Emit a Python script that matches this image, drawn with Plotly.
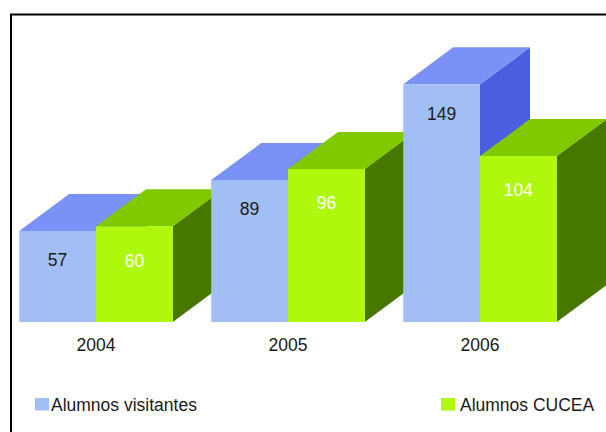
import plotly.graph_objects as go

years = ["2004", "2005", "2006"]
visitantes = [57, 89, 149]
cucea = [60, 96, 104]
name_visitantes = "Alumnos visitantes"
name_cucea = "Alumnos CUCEA"

W, H = 606, 432
PITCH = 192.0        # px per category
SCALE = 1.595        # px per student
X0 = 96.0            # px of first category
BASE = 322.0         # px of baseline
BAR = 0.4            # bar width in category units
DX = 50.0 / PITCH    # 3D depth, horizontal
DY = 37.0 / SCALE    # 3D depth, vertical
FONT = dict(family="Liberation Sans, Arial, sans-serif", size=17.5, color="#1a1a1a")
BLUE = "#A2BFF5"
GREEN = "#AFF80D"

fig = go.Figure()
z = 1


def add_poly(xs, ys, color, z):
    fig.add_trace(go.Scatter(x=xs, y=ys, mode="lines", fill="toself", fillcolor=color,
                             line=dict(width=0, color=color), hoverinfo="skip",
                             showlegend=False, zorder=z, cliponaxis=True))


def add_box(i, v, left, front, top, side, name):
    global z
    right = left + BAR
    add_poly([right, right + DX, right + DX, right], [0, DY, v + DY, v], side, z); z += 1
    add_poly([left, left + DX, right + DX, right], [v, v + DY, v + DY, v], top, z); z += 1
    fig.add_trace(go.Bar(x=[i], y=[v], width=[BAR], offset=[left - i], marker=dict(color=front, line=dict(width=0)),
                         name=name, showlegend=False, zorder=z, hoverinfo="skip"))
    z += 1


for i in range(len(years)):
    add_box(i, visitantes[i], i - BAR, BLUE, "#7A92F5", "#4A5FE0", name_visitantes)
    add_box(i, cucea[i], i, GREEN, "#80C800", "#467800", name_cucea)

# value labels
fig.add_trace(go.Scatter(x=[i - BAR / 2 for i in range(3)], y=[v - 31 / SCALE for v in visitantes],
                         mode="text", text=[str(v) for v in visitantes], textfont=FONT,
                         showlegend=False, hoverinfo="skip", zorder=z))
fig.add_trace(go.Scatter(x=[i + BAR / 2 for i in range(3)], y=[v - 36 / SCALE for v in cucea],
                         mode="text", text=[str(v) for v in cucea],
                         textfont=dict(family=FONT["family"], size=17.5, color="white"),
                         showlegend=False, hoverinfo="skip", zorder=z + 1))


def swatch(x0, color):
    return dict(type="rect", xref="paper", yref="paper", x0=x0 / W, x1=(x0 + 14) / W,
                y0=(H - 410.5) / H, y1=(H - 398) / H, fillcolor=color, line=dict(width=0), layer="above")


def legend_text(x0, text):
    return dict(text=text, xref="paper", yref="paper", x=x0 / W, y=(H - 404.5) / H,
                xanchor="left", yanchor="middle", showarrow=False, font=FONT)


fig.update_layout(
    width=W, height=H, margin=dict(l=0, r=0, t=0, b=0),
    paper_bgcolor="white", plot_bgcolor="rgba(0,0,0,0)",
    barmode="overlay", font=FONT, showlegend=False,
    xaxis=dict(range=[-X0 / PITCH, (W - X0) / PITCH], domain=[0, 1],
               tickmode="array", tickvals=[0, 1, 2], ticktext=years,
               ticks="outside", ticklen=7, tickcolor="rgba(0,0,0,0)",
               showgrid=False, zeroline=False, showline=False, tickfont=FONT),
    yaxis=dict(range=[0, BASE / SCALE], domain=[(H - BASE) / H, 1], visible=False),
    shapes=[dict(type="rect", xref="paper", yref="paper",
                 x0=11 / W, x1=1.05, y0=-0.05, y1=(H - 14.5) / H,
                 line=dict(color="black", width=2), fillcolor="rgba(0,0,0,0)", layer="above"),
            swatch(35, BLUE), swatch(441, GREEN)],
    annotations=[legend_text(49, name_visitantes), legend_text(458, name_cucea)],
)

fig.write_html("out.html", config={"displayModeBar": False},
               post_script="document.body.style.margin='0';document.documentElement.style.overflow='hidden';")
